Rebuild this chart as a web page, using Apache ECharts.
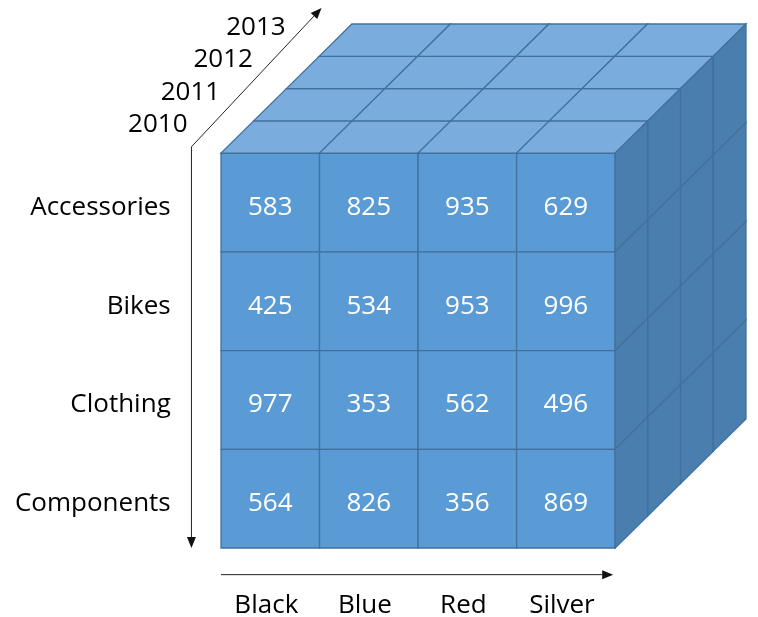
<!DOCTYPE html>
<html>
<head>
<meta charset="utf-8">
<script src="https://cdn.jsdelivr.net/npm/echarts@6/dist/echarts.min.js"></script>
<style>
  html, body { margin: 0; padding: 0; background: #fff; }
  #cube { width: 758px; height: 617px; }
</style>
</head>
<body>
<div id="cube"></div>
<script>
// 数据
var categories = ['Accessories', 'Bikes', 'Clothing', 'Components'];
var colors = ['Black', 'Blue', 'Red', 'Silver'];
var years = ['2010', '2011', '2012', '2013'];
// 2010 (front layer), rows = categories, cols = colors
var accessories = [583, 825, 935, 629];
var bikes = [425, 534, 953, 996];
var clothing = [977, 353, 562, 496];
var components = [564, 826, 356, 869];
var rows = [accessories, bikes, clothing, components];

// depth step of one year layer, in cell units
var DX = 0.332, DY = 0.327;
var N = colors.length;
var FONT = '26px "Open Sans"';
var LINE = '#41719C';

var frontData = [];
rows.forEach(function (row, r) {
    row.forEach(function (v, c) {
        frontData.push([c, N - 1 - r, v]);
    });
});
var topData = [];
years.forEach(function (y, d) {
    colors.forEach(function (name, c) { topData.push([c, d]); });
});
var sideData = [];
years.forEach(function (y, d) {
    categories.forEach(function (name, r) { sideData.push([N - 1 - r, d]); });
});

function poly(api, pts, fill) {
    return {
        type: 'polygon',
        shape: { points: pts.map(function (p) { return api.coord(p); }) },
        style: { fill: fill, stroke: LINE, lineWidth: 1.3 }
    };
}

function text(api, p, s, fill, align) {
    var pt = api.coord(p);
    return {
        type: 'text',
        style: {
            text: s, x: pt[0], y: pt[1], fill: fill, font: FONT,
            align: align || 'center', verticalAlign: 'middle'
        }
    };
}

function arrow(api, from, to) {
    var a = api.coord(from), b = api.coord(to);
    var ang = Math.atan2(b[1] - a[1], b[0] - a[0]);
    var len = 11, w = 4.5;
    var bx = b[0] - len * Math.cos(ang), by = b[1] - len * Math.sin(ang);
    return [{
        type: 'line',
        shape: { x1: a[0], y1: a[1], x2: bx, y2: by },
        style: { stroke: '#222', lineWidth: 1 }
    }, {
        type: 'polygon',
        shape: { points: [b,
            [bx + w * Math.sin(ang), by - w * Math.cos(ang)],
            [bx - w * Math.sin(ang), by + w * Math.cos(ang)]] },
        style: { fill: '#111' }
    }];
}

var option = {
    animation: false,
    grid: { left: 221, top: 24, width: 525, height: 524 },
    xAxis: { type: 'value', min: 0, max: N + 4 * DX, show: false },
    yAxis: { type: 'value', min: 0, max: N + 4 * DY, show: false },
    series: [{
        type: 'custom',
        data: frontData,
        renderItem: function (params, api) {
            var c = api.value(0), y = api.value(1);
            return {
                type: 'group',
                children: [
                    poly(api, [[c, y], [c + 1, y], [c + 1, y + 1], [c, y + 1]], '#5B9BD5'),
                    text(api, [c + 0.5, y + 0.45], String(api.value(2)), '#fff')
                ]
            };
        }
    }, {
        type: 'custom',
        data: topData,
        renderItem: function (params, api) {
            var c = api.value(0), d = api.value(1);
            var x0 = c + d * DX, y0 = N + d * DY;
            return poly(api, [[x0, y0], [x0 + 1, y0], [x0 + 1 + DX, y0 + DY], [x0 + DX, y0 + DY]], '#7AADDD');
        }
    }, {
        type: 'custom',
        data: sideData,
        renderItem: function (params, api) {
            var y = api.value(0), d = api.value(1);
            var x0 = N + d * DX, y0 = y + d * DY;
            return poly(api, [[x0, y0], [x0 + DX, y0 + DY], [x0 + DX, y0 + 1 + DY], [x0, y0 + 1]], '#4A7EAE');
        }
    }, {
        type: 'custom',
        data: [0],
        renderItem: function (params, api) {
            var ch = [];
            categories.forEach(function (s, r) {
                ch.push(text(api, [-0.51, N - 1 - r + 0.45], s, '#000', 'right'));
            });
            colors.forEach(function (s, c) {
                ch.push(text(api, [c + 0.46, -0.585], s, '#000'));
            });
            years.forEach(function (s, d) {
                ch.push(text(api, [-0.34 + d * DX, N + 0.29 + d * DY], s, '#000', 'right'));
            });
            ch = ch.concat(arrow(api, [-0.3, N + 0.064], [-0.3, 0]));
            ch = ch.concat(arrow(api, [-0.3, N + 0.064], [1.02, N + 1.47]));
            ch = ch.concat(arrow(api, [0, -0.27], [3.98, -0.27]));
            return { type: 'group', children: ch };
        }
    }]
};

var myChart = echarts.init(document.getElementById('cube'));
myChart.setOption(option);
</script>
</body>
</html>
